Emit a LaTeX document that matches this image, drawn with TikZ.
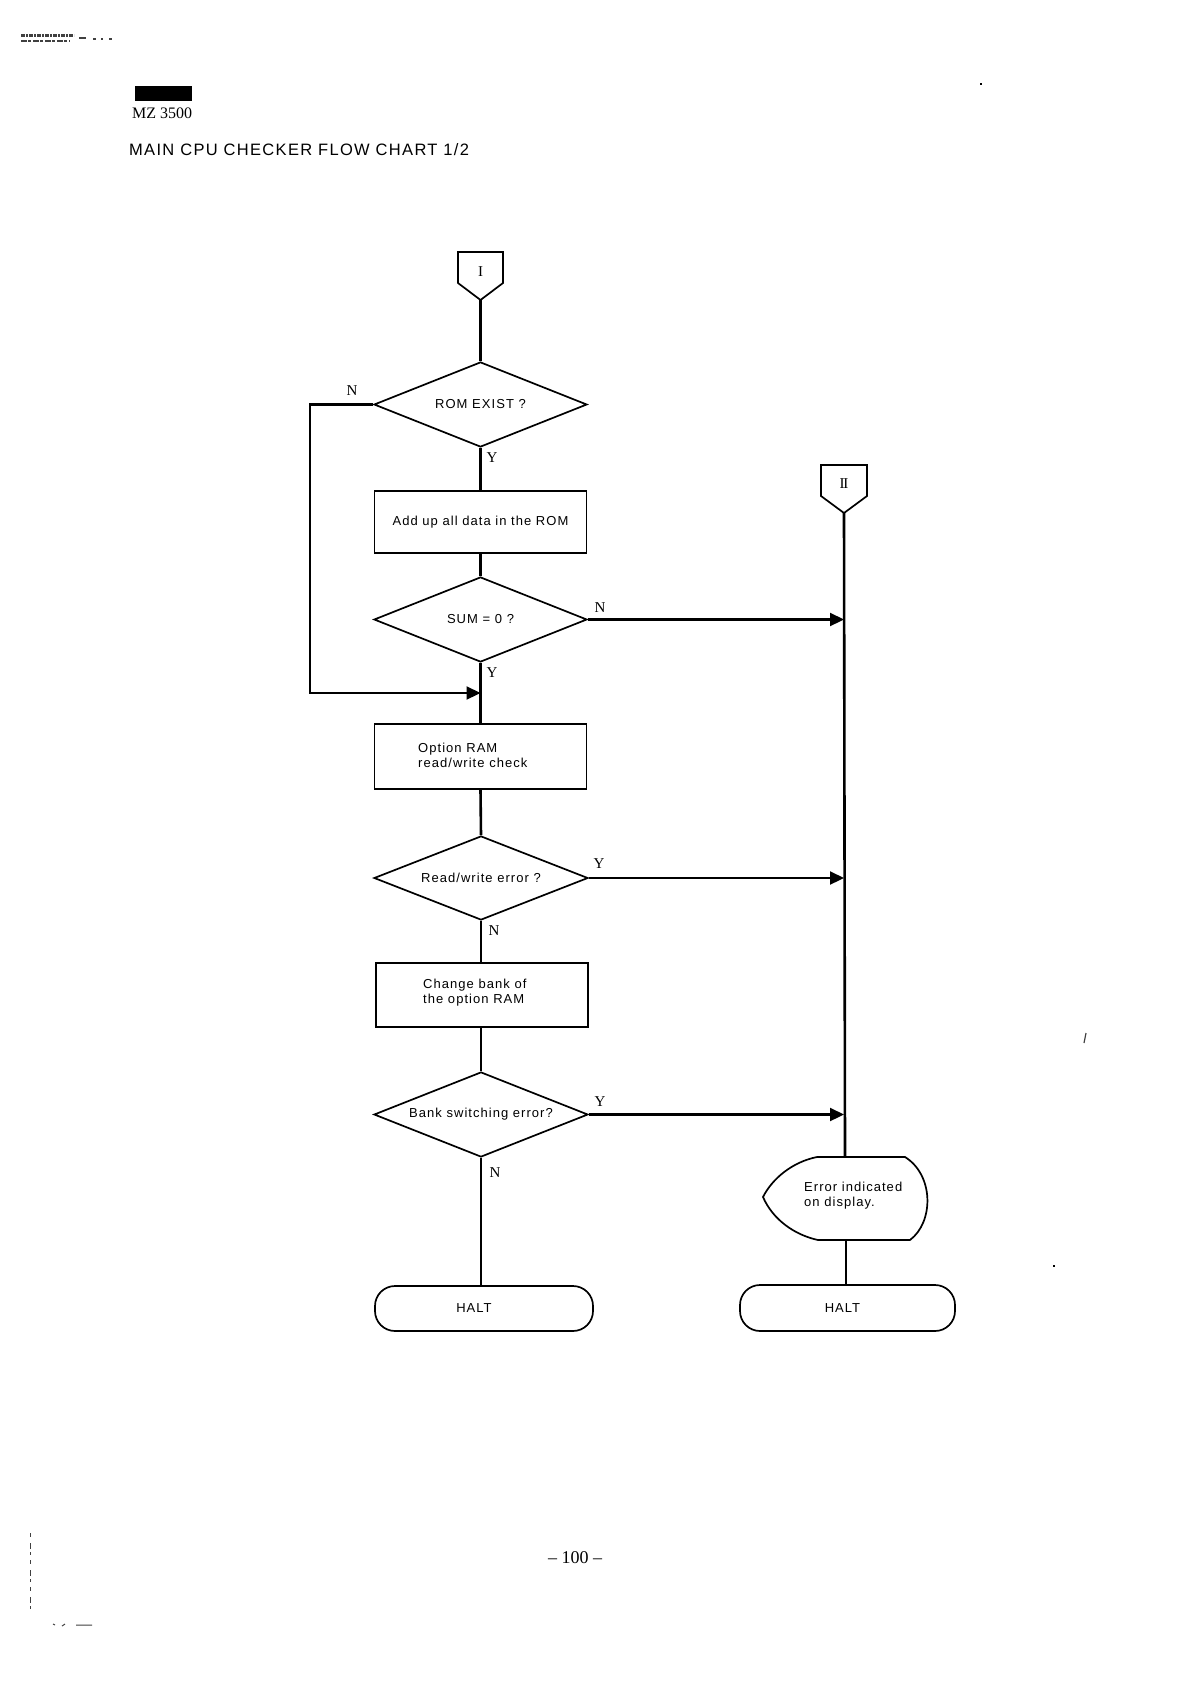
\documentclass[tikz,border=0pt]{standalone}
\usepackage{fontspec}
\setmainfont{Liberation Serif}
\newfontfamily\flowfont[LetterSpace=8]{Liberation Sans}
\usetikzlibrary{shapes.geometric,arrows.meta}
\begin{document}
\begin{tikzpicture}[x=1pt,y=-1pt,
  flow/.style={line width=2.6pt},
  arr/.style={line width=2.2pt,-{Triangle[length=14pt,width=13pt]}},
  shp/.style={draw,line width=1.7pt},
  ftxt/.style={font=\flowfont\fontsize{13}{15}\selectfont},
  dec/.style={shp,diamond,aspect=2.5,minimum width=213pt,minimum height=85pt,inner sep=0pt,ftxt},
  proc/.style={shp,rectangle,minimum width=212pt,minimum height=64pt,inner sep=0pt,ftxt},
  term/.style={shp,rectangle,rounded corners=20pt,minimum width=216pt,minimum height=45pt,inner sep=0pt,ftxt},
  txt/.style={ftxt,inner sep=0pt,align=left,anchor=west},
  lab/.style={font=\fontsize{15}{15}\selectfont,inner sep=0pt},
  scan/.style={black!75,line width=1.2pt}
]
\fill[white] (0,0) rectangle (1194,1686);
\useasboundingbox (0,0) rectangle (1194,1686);

% ---- header ----
\draw[scan,line width=3pt,dash pattern=on 4pt off 1pt on 2pt off 1pt] (21,36) -- (74,36);
\draw[scan,line width=2pt,dash pattern=on 6pt off 1pt on 3pt off 2pt] (21,41) -- (70,41);
\draw[scan,line width=2pt] (79,38) -- (86,38) (93,39) -- (96,39) (101,39) -- (103,39) (109,39) -- (112,39);
\fill[black] (135,86) rectangle (192,101);
\node[anchor=base west,inner sep=0pt,font=\fontsize{16}{16}\selectfont] (model) at (132,118) {MZ 3500};
\node[anchor=base west,inner sep=0pt,font=\flowfont\fontsize{16.5}{18}\selectfont] (title) at (129,155) {MAIN CPU CHECKER FLOW CHART 1/2};

% ---- off-page connectors ----
\draw[shp] (458,252) -- (503,252) -- (503,283) -- (480.5,300) -- (458,283) -- cycle;
\node[lab] (c1) at (480.5,272) {I};
\coordinate (c1tip) at (480.5,300);
\draw[shp] (821,465) -- (867,465) -- (867,496) -- (844,513) -- (821,496) -- cycle;
\node[lab] (c2) at (844,484) {I\kern-1.3ptI};
\coordinate (c2tip) at (844,513);

% ---- left column ----
\node[dec] (rom) at (480.5,404.5) {ROM EXIST ?};
\node[proc,minimum height=62pt] (add) at (480.5,522) {Add up all data in the ROM};
\node[dec] (sum) at (480.5,619.5) {SUM = 0 ?};
\node[proc,minimum height=65pt] (opt) at (480.5,756.5) {};
\node[txt] (optt) at (418,755) {Option RAM\\read/write check};
\node[dec,minimum width=214pt,minimum height=84pt] (rw) at (481,878) {Read/write error ?};
\node[proc] (chg) at (482,995) {};
\node[txt] (chgt) at (423,992.5) {Change bank of\\the option RAM};
\node[dec,minimum width=214pt] (bank) at (481,1114.5) {Bank switching error?};
\node[term,minimum width=218pt] (halt1) at (484,1308.5) {HALT\hspace*{20pt}};

% ---- right column ----
\draw[shp] (817,1157) -- (905,1157)
  .. controls (934,1175) and (934,1222) .. (910,1240) -- (818,1240)
  .. controls (795,1235) and (773,1220) .. (763,1197)
  .. controls (772,1179) and (792,1162) .. cycle;
\node[txt] (disp) at (804,1195.5) {Error indicated\\on display.};
\coordinate (disptop) at (845,1157);
\coordinate (dispbot) at (846,1240);
\node[term,minimum width=215pt,minimum height=46pt] (halt2) at (847.5,1308) {HALT\hspace*{10pt}};

% ---- main flow ----
\draw[flow] (c1tip) -- (rom.north);
\draw[flow] (rom.south) -- (add.north);
\draw[flow] (add.south) -- (sum.north);
\draw[flow] (sum.south) -- (opt.north);
\draw[flow] (opt.south) -- (rw.north);
\draw[flow] (rw.south) -- (rw.south |- chg.north);
\draw[flow] (chg.south -| bank.north) -- (bank.north);
\draw[flow] (bank.south) -- (bank.south |- halt1.north);
\coordinate (loopin) at (480.5,693);
\draw[arr] (rom.west) -- ++(-63,0) |- (loopin);

\draw[flow] (c2tip) -- (disptop);
\draw[flow] (dispbot) -- (dispbot |- halt2.north);
\draw[arr] (sum.east) -- (sum.east -| c2tip);
\draw[arr] (rw.east) -- (rw.east -| c2tip);
\draw[arr] (bank.east) -- (bank.east -| c2tip);

% ---- branch labels ----
\node[lab] (romN) at (352,391) {N};
\node[lab] (romY) at (492,458) {Y};
\node[lab] (sumN) at (600,608) {N};
\node[lab] (sumY) at (492,673) {Y};
\node[lab] (rwY) at (599,864) {Y};
\node[lab] (rwN) at (494,931) {N};
\node[lab] (bankY) at (600,1102) {Y};
\node[lab] (bankN) at (495,1173) {N};

% ---- page footer and scan marks ----
\node[inner sep=0pt,font=\fontsize{18}{18}\selectfont] (page) at (575,1558) {– 100 –};
\fill[black] (980,83) rectangle (982,85);
\draw[scan] (1086,1033) -- (1084,1043);
\fill[black] (1053,1265) rectangle (1055,1267);
\draw[scan,line width=1pt,dash pattern=on 4pt off 6pt on 6pt off 3pt on 3pt off 5pt] (30.5,1533) -- (30.5,1612);
\draw[scan,line width=1pt] (53,1624) -- (55,1625) (62,1626) -- (65,1624) (76,1625) -- (92,1625);
\end{tikzpicture}
\end{document}
